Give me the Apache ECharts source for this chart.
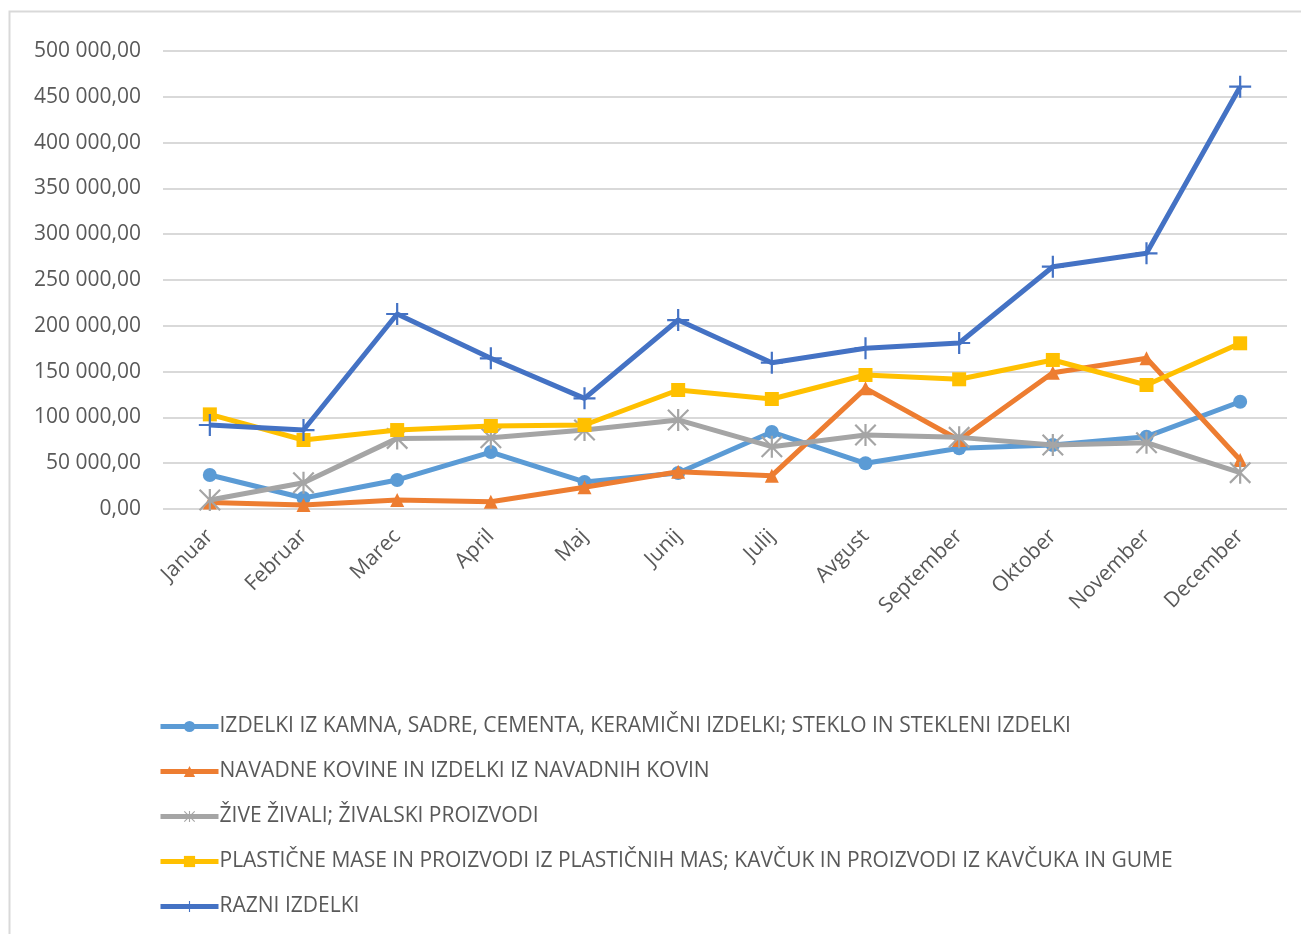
<!DOCTYPE html>
<html>
<head>
<meta charset="utf-8">
<script src="https://cdn.jsdelivr.net/npm/echarts@6/dist/echarts.min.js"></script>
<style>
  html, body { margin: 0; padding: 0; background: #fff; }
  #chart { width: 1301px; height: 934px; }
</style>
</head>
<body>
<div id="chart"></div>
<script>
const months = ['Januar', 'Februar', 'Marec', 'April', 'Maj', 'Junij', 'Julij', 'Avgust', 'September', 'Oktober', 'November', 'December'];

const seriesNames = [
  'IZDELKI IZ KAMNA, SADRE, CEMENTA, KERAMIČNI IZDELKI; STEKLO IN STEKLENI IZDELKI',
  'NAVADNE KOVINE IN IZDELKI IZ NAVADNIH KOVIN',
  'ŽIVE ŽIVALI; ŽIVALSKI PROIZVODI',
  'PLASTIČNE MASE IN PROIZVODI IZ PLASTIČNIH MAS; KAVČUK IN PROIZVODI IZ KAVČUKA IN GUME',
  'RAZNI IZDELKI'
];

const kamen = [37100, 12000, 31700, 62200, 29500, 39300, 84000, 49900, 66300, 69900, 79000, 117100];
const kovine = [7000, 4400, 9800, 8000, 23700, 40700, 36400, 131700, 75300, 148800, 164500, 53500];
const zivali = [9800, 28700, 77100, 77800, 86200, 97200, 68000, 80800, 78200, 69900, 72400, 39700];
const plastika = [103300, 75300, 86200, 90600, 91700, 129900, 120100, 146300, 141600, 162700, 135400, 180900];
const razni = [91700, 86200, 212900, 164500, 120800, 206300, 159700, 175400, 181200, 264500, 279100, 461000];

const colors = ['#5B9BD5', '#ED7D31', '#A5A5A5', '#FFC000', '#4472C4'];

// simboli kot v Excelu: krog, trikotnik, zvezdica, kvadrat, plus
const starPath = 'path://M9,0h2v20h-2z M0,1.4L1.4,0L20,18.6L18.6,20z M18.6,0L20,1.4L1.4,20L0,18.6z';
const plusPath = 'path://M9,0h2v20h-2z M0,9h20v2h-20z';
const symbols = ['circle', 'triangle', starPath, 'rect', plusPath];
const symbolSizes = [14, 14, 22, 14, 22];

function fmt(v) {
  let s = Math.round(v).toString().replace(/\B(?=(\d{3})+(?!\d))/g, ' ');
  return s + ',00';
}

const chart = echarts.init(document.getElementById('chart'));
const font = '"Open Sans", "Noto Sans", sans-serif';

const option = {
  animation: false,
  textStyle: { fontFamily: font },
  graphic: [{
    type: 'rect',
    shape: { x: 9.5, y: 11.5, width: 1320, height: 960 },
    style: { fill: null, stroke: '#d9d9d9', lineWidth: 2 },
    silent: true
  }],
  grid: { left: 163, right: 14, top: 51, bottom: 425 },
  legend: {
    orient: 'vertical',
    left: 153,
    top: 711,
    itemWidth: 58,
    itemHeight: 14,
    itemGap: 24,
    lineStyle: { width: 5 },
    textStyle: { fontSize: 21, color: '#595959', fontFamily: font, padding: [0, 0, 0, -4] },
    data: seriesNames
  },
  xAxis: {
    type: 'category',
    data: months,
    boundaryGap: true,
    axisLine: { show: false },
    axisTick: { show: false },
    axisLabel: { rotate: 45, fontSize: 21, color: '#595959', margin: 24, interval: 0 }
  },
  yAxis: {
    type: 'value',
    min: 0,
    max: 500000,
    interval: 50000,
    axisLine: { show: false },
    axisTick: { show: false },
    splitLine: { lineStyle: { color: '#d9d9d9', width: 2 } },
    axisLabel: { fontSize: 21, color: '#595959', margin: 22, formatter: fmt }
  },
  series: [kamen, kovine, zivali, plastika, razni].map(function (data, i) {
    return {
      name: seriesNames[i],
      type: 'line',
      data: data,
      symbol: symbols[i],
      symbolSize: symbolSizes[i],
      itemStyle: { color: colors[i] },
      lineStyle: { color: colors[i], width: 5 },
      z: 2 + i
    };
  })
};

chart.setOption(option);
</script>
</body>
</html>
